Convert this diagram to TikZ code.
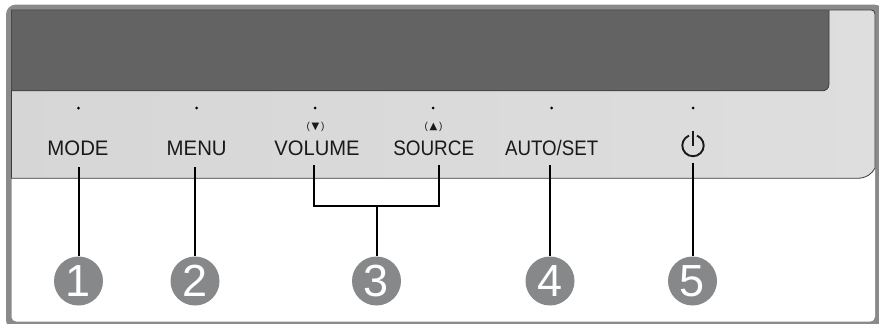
\documentclass[tikz,border=0pt]{standalone}
\usepackage{fontspec}
\setmainfont{Liberation Sans}
\newfontfamily\symfont{DejaVu Sans}
\definecolor{framegray}{HTML}{8A8A8A}
\definecolor{screengray}{HTML}{636363}
\definecolor{badgegray}{HTML}{868889}
\definecolor{edgegray}{HTML}{3C3C3C}
\tikzset{
  btnlabel/.style={anchor=base,inner sep=0pt,font=\fontsize{21}{24}\selectfont,text=black!90},
  btndot/.style={circle,fill=black,inner sep=0pt,minimum size=3pt},
  badge/.style={circle,fill=badgegray,text=white,inner sep=0pt,minimum size=49pt,font=\fontsize{45}{48}\selectfont},
  lead/.style={draw=black,line width=2pt},
  hint/.style={anchor=center,inner sep=0pt,font=\fontsize{10}{12}\selectfont,text=black!90}
}
\begin{document}
\begin{tikzpicture}[x=1pt,y=-1pt]
\useasboundingbox (0,0) rectangle (879,324);
% frame
\fill[framegray,rounded corners=10pt] (6,4.5) rectangle (884,330);
\fill[white,rounded corners=5pt] (11.5,10) rectangle (875,321.7);
% panel
\path[left color=black!16,right color=black!13,draw=edgegray,line width=0.8pt]
  (11.5,178.3) -- (857,178.3) .. controls (866,178.3) and (872,174) .. (875,168)
  -- (875,14) .. controls (875,11) and (873,10) .. (871,10) -- (11.5,10) -- cycle;
% screen
\fill[screengray] (11.5,10) -- (829,10) -- (829,84) .. controls (829,88.5) and (826,90.8) .. (822,90.8) -- (11.5,90.8) -- cycle;
\draw[edgegray,line width=0.8pt] (829,10) -- (829,84) .. controls (829,88.5) and (826,90.8) .. (822,90.8) -- (11.5,90.8);
\draw[black!65,line width=1pt] (11.5,10.5) -- (829,10.5);
% dots
\foreach \n/\x in {a/78.5,b/196.5,c/315,d/433,e/551.5,f/693}
  \node[btndot] (dot\n) at (\x,108) {};
% labels
\node[btnlabel] (mode) at (78,155) {\scalebox{0.97}[1]{MODE}};
\node[btnlabel] (menu) at (196.7,155) {\scalebox{0.97}[1]{MENU}};
\node[btnlabel] (volume) at (317,155) {\scalebox{0.96}[1]{VOLUME}};
\node[btnlabel] (source) at (433.7,155) {\scalebox{0.90}[1]{SOURCE}};
\node[btnlabel] (autoset) at (551.7,155) {\scalebox{0.89}[1]{AUTO/SET}};
\node[hint] (volhint) at (315.5,126.5) {(\,{\symfont\fontsize{10}{12}\selectfont ▼}\,)};
\node[hint] (srchint) at (433.5,126.5) {(\,{\symfont\fontsize{10}{12}\selectfont ▲}\,)};
% power symbol
\coordinate (pwr) at (693,145.5);
\draw[black!90,line width=1.9pt] (pwr) ++(-4,-9.9) arc[start angle=248,end angle=-68,radius=10.7];
\draw[black!90,line width=1.9pt] (693,131) -- (pwr);
% badges
\node[badge] (n1) at (78.5,281) {1};
\node[badge] (n2) at (195,281) {2};
\node[badge] (n3) at (376.5,281) {3};
\node[badge] (n4) at (550,281) {4};
\node[badge] (n5) at (692.5,281) {5};
% lead tops
\coordinate (t1) at (78.5,167);
\coordinate (t2) at (195,167);
\coordinate (t3a) at (314,165);
\coordinate (t3b) at (439,165);
\coordinate (t4) at (550,165);
\coordinate (t5) at (692.5,163);
\coordinate (bar) at (376.5,205.5);
\draw[lead] (t1) -- (n1.north);
\draw[lead] (t2) -- (n2.north);
\draw[lead,line join=miter] (t3a) |- (bar) -| (t3b);
\draw[lead] (bar) -- (n3.north);
\draw[lead] (t4) -- (n4.north);
\draw[lead] (t5) -- (n5.north);
\end{tikzpicture}
\end{document}
